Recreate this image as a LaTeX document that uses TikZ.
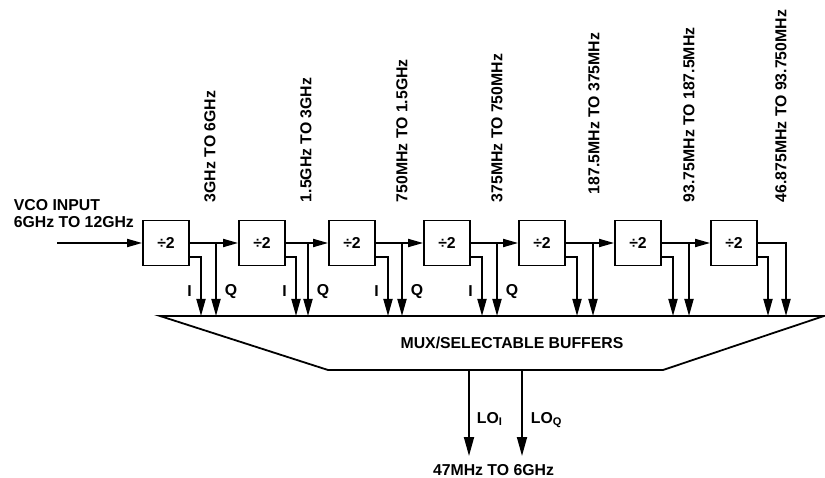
\documentclass[tikz,border=0pt]{standalone}
\usepackage{fontspec}
\setmainfont{Liberation Sans}
\usetikzlibrary{arrows.meta,calc}
\begin{document}
\begin{tikzpicture}[x=1pt,y=-1pt,
  line width=1.8pt,
  every node/.style={font=\fontsize{15.8}{17}\selectfont\bfseries, inner sep=0pt},
  divbox/.style={draw, minimum width=46pt, minimum height=45pt},
  harr/.style={-{Triangle[length=15pt,width=8pt]}},
  varr/.style={-{Triangle[length=17pt,width=9pt]}},
  loarr/.style={-{Triangle[length=19pt,width=10pt]}},
  freq/.style={rotate=90, anchor=west}]
\useasboundingbox (0,0) rectangle (825,478);

% divider boxes
\foreach \n/\L in {1/143,2/239,3/329,4/424,5/519,6/615,7/711}
  \node[divbox] (b\n) at (\L+23,243) {÷2};

% VCO input
\node[align=left, anchor=west] (vco) at (13,213.5) {VCO INPUT\\6GHz TO 12GHz};
\coordinate (vin) at (57,243);
\draw[harr] (vin) -- (b1);

% chain arrows
\foreach \a/\b in {1/2,2/3,3/4,4/5,5/6,6/7}
  \draw[harr] (b\a) -- (b\b);

% mux
\coordinate (mtl) at (160,316);
\coordinate (mtr) at (824,316);
\coordinate (mbr) at (663,370);
\coordinate (mbl) at (328,370);
\draw (mtl) -- (mtr) -- (mbr) -- (mbl) -- cycle;
\node (mux) at (512,343) {MUX/SELECTABLE BUFFERS};

% I branches
\foreach \n/\I in {1/201,2/296,3/388,4/482,5/577,6/673,7/768}{
  \coordinate (i\n) at (\I,316);
  \draw[varr] ($(b\n.east)+(0,14)$) -| (i\n);
}
% Q branches
\foreach \n/\Q in {1/216,2/308,3/402,4/497,5/593,6/689}{
  \coordinate (qs\n) at (\Q,243);
  \coordinate (q\n) at (\Q,316);
  \draw[varr] (qs\n) -- (q\n);
}
\coordinate (q7) at (786,316);
\draw[varr] (b7.east) -| (q7);

% I/Q labels
\foreach \n/\I/\Q in {1/201/216,2/296/308,3/388/402,4/482/497}{
  \node (il\n) at (\I-11.5,291.5) {I};
  \node (ql\n) at (\Q+15,291.5) {Q};
}

% frequency labels
\node[freq] (f1) at (210,203) {3GHz TO 6GHz};
\node[freq] (f2) at (306,203) {1.5GHz TO 3GHz};
\node[freq] (f3) at (402,203) {750MHz TO 1.5GHz};
\node[freq] (f4) at (497,203) {375MHz TO 750MHz};
\node[freq] (f5) at (594,195) {187.5MHz TO 375MHz};
\node[freq] (f6) at (689,203) {93.75MHz TO 187.5MHz};
\node[freq] (f7) at (781,203) {46.875MHz TO 93.750MHz};

% LO outputs
\coordinate (loi) at (469,370);
\coordinate (loq) at (522,370);
\coordinate (loie) at (469,456);
\coordinate (loqe) at (522,456);
\draw[loarr] (loi) -- (loie);
\draw[loarr] (loq) -- (loqe);
\node[anchor=base west] (loil) at (476,423) {LO\textsubscript{I}};
\node[anchor=base west] (loql) at (530,423) {LO\textsubscript{Q}};
\node (out) at (493.5,470.5) {47MHz TO 6GHz};
\end{tikzpicture}
\end{document}
